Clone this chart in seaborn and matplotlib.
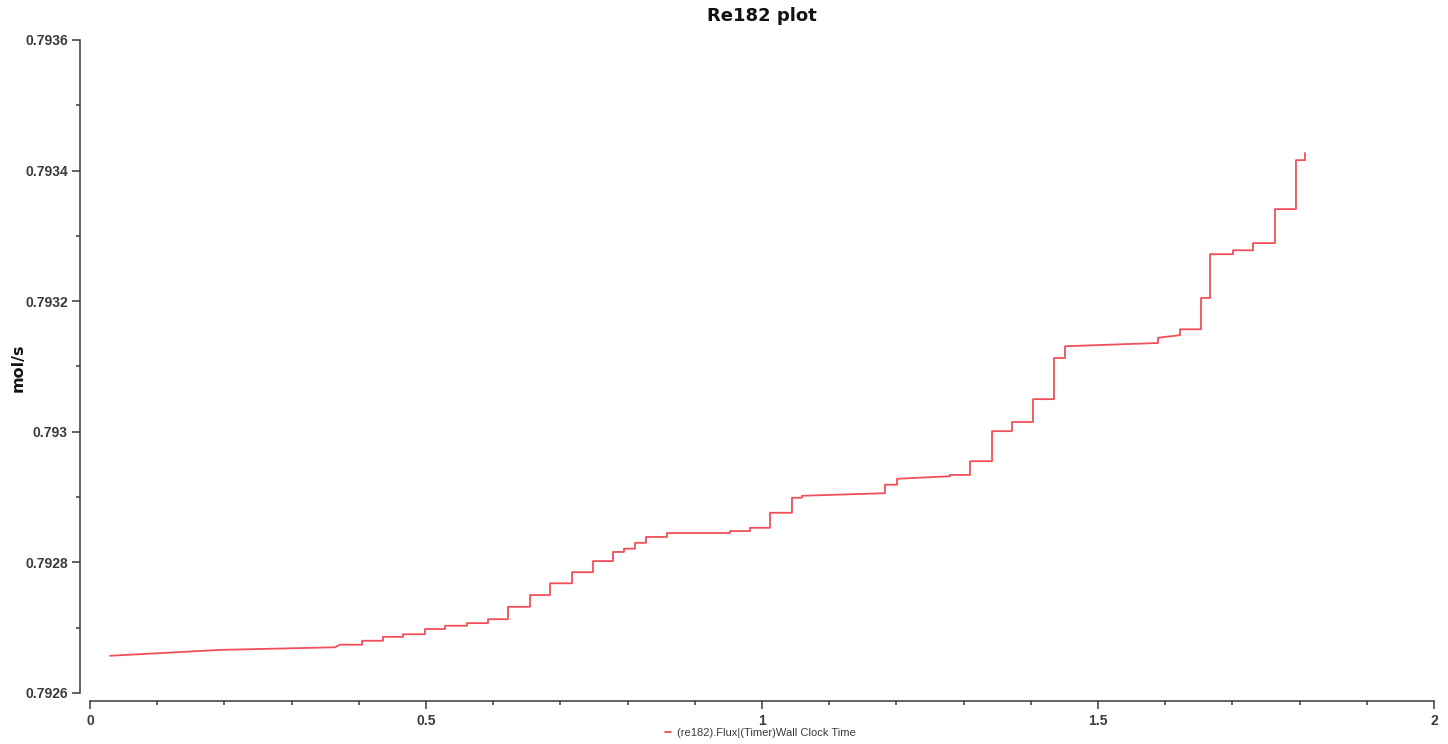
import matplotlib
matplotlib.use("Agg")
import matplotlib.pyplot as plt
import matplotlib.ticker as mticker
import pandas as pd
import seaborn as sns

# wall clock time (s) and Re182 flux as recorded, jumps appear as repeated times
time = [0.0298, 0.1935, 0.3646, 0.3720, 0.4048, 0.4048, 0.4360, 0.4360,
        0.4658, 0.4658, 0.4985, 0.4985, 0.5283, 0.5283, 0.5610, 0.5610,
        0.5923, 0.5923, 0.6220, 0.6220, 0.6548, 0.6548, 0.6845, 0.6845,
        0.7173, 0.7173, 0.7485, 0.7485, 0.7783, 0.7783, 0.7946, 0.7946,
        0.8110, 0.8110, 0.8274, 0.8274, 0.8586, 0.8586, 0.9524, 0.9524,
        0.9821, 0.9821, 1.0119, 1.0119, 1.0446, 1.0446, 1.0595, 1.0595,
        1.1830, 1.1830, 1.2009, 1.2009, 1.2798, 1.2798, 1.3095, 1.3095,
        1.3423, 1.3423, 1.3720, 1.3720, 1.4033, 1.4033, 1.4345, 1.4345,
        1.4509, 1.4509, 1.5893, 1.5893, 1.6220, 1.6220, 1.6533, 1.6533,
        1.6667, 1.6667, 1.7009, 1.7009, 1.7307, 1.7307, 1.7634, 1.7634,
        1.7946, 1.7946, 1.8080, 1.8080]
flux = [0.792657, 0.792666, 0.792670, 0.792674, 0.792674, 0.792680,
        0.792680, 0.792686, 0.792686, 0.792690, 0.792690, 0.792698,
        0.792698, 0.792703, 0.792703, 0.792707, 0.792707, 0.792713,
        0.792713, 0.792732, 0.792732, 0.792750, 0.792750, 0.792768,
        0.792768, 0.792785, 0.792785, 0.792802, 0.792802, 0.792816,
        0.792816, 0.792821, 0.792821, 0.792830, 0.792830, 0.792839,
        0.792839, 0.792845, 0.792845, 0.792848, 0.792848, 0.792853,
        0.792853, 0.792876, 0.792876, 0.792899, 0.792899, 0.792902,
        0.792906, 0.792919, 0.792919, 0.792928, 0.792932, 0.792934,
        0.792934, 0.792955, 0.792955, 0.793001, 0.793001, 0.793015,
        0.793015, 0.793050, 0.793050, 0.793113, 0.793113, 0.793131,
        0.793136, 0.793144, 0.793148, 0.793157, 0.793157, 0.793205,
        0.793205, 0.793272, 0.793272, 0.793278, 0.793278, 0.793289,
        0.793289, 0.793341, 0.793341, 0.793416, 0.793416, 0.793427]

series_name = "(re182).Flux|(Timer)Wall Clock Time"
title = "Re182 plot"
y_label = "mol/s"

df = pd.DataFrame({"time": time, "flux": flux})

sns.set_style("ticks")
plt.rcParams["font.family"] = ["Liberation Sans", "DejaVu Sans"]

txt_col = "#3a3a3a"
line_col = "#f0505a"

fig = plt.figure(figsize=(14.48, 7.44), dpi=100)
fig.set_facecolor("white")
ax = fig.add_axes([90 / 1448, 51 / 744, 1344 / 1448, 653 / 744])

sns.lineplot(df, x="time", y="flux", ax=ax, color=line_col, linewidth=1.3,
             sort=False, estimator=None, label=series_name)
ax.get_legend().remove()

ax.set_xlim(0, 2)
ax.set_ylim(0.7926, 0.7936)
ax.set_xlabel("")
ax.set_ylabel("")

for side in ["top", "right"]:
    ax.spines[side].set_visible(False)
ax.spines["left"].set_position(("outward", 7))
ax.spines["bottom"].set_position(("outward", 6))
for side in ["left", "bottom"]:
    ax.spines[side].set_color(txt_col)
    ax.spines[side].set_linewidth(1.1)

ax.xaxis.set_major_locator(mticker.MultipleLocator(0.5))
ax.xaxis.set_minor_locator(mticker.MultipleLocator(0.1))
ax.yaxis.set_major_locator(mticker.MultipleLocator(0.0002))
ax.yaxis.set_minor_locator(mticker.MultipleLocator(0.0001))
fmt = mticker.FuncFormatter(lambda v, p: f"{round(v, 6):g}")
ax.xaxis.set_major_formatter(fmt)
ax.yaxis.set_major_formatter(fmt)

ax.tick_params(which="major", direction="out", length=6, width=1.1,
               color=txt_col, labelcolor=txt_col, labelsize=10, pad=3)
ax.tick_params(which="minor", direction="out", length=3, width=1.1,
               color=txt_col)
for lab in ax.get_xticklabels() + ax.get_yticklabels():
    lab.set_fontweight("bold")

ax.set_title(title, fontsize=13, fontweight="bold", family="DejaVu Sans",
             color="#111111", pad=14)
fig.text(18 / 1448, 1 - 368 / 744, y_label, rotation=90, ha="center",
         va="center", fontsize=11.5, fontweight="bold",
         family="DejaVu Sans", color="#111111")

handles, labels = ax.get_legend_handles_labels()
fig.legend(handles, labels, loc="lower center", bbox_to_anchor=(0.525, -0.005),
           frameon=False, handlelength=0.6, handletextpad=0.5,
           fontsize=8, labelcolor=txt_col)

fig.savefig("out.png", dpi=100, facecolor="white")
